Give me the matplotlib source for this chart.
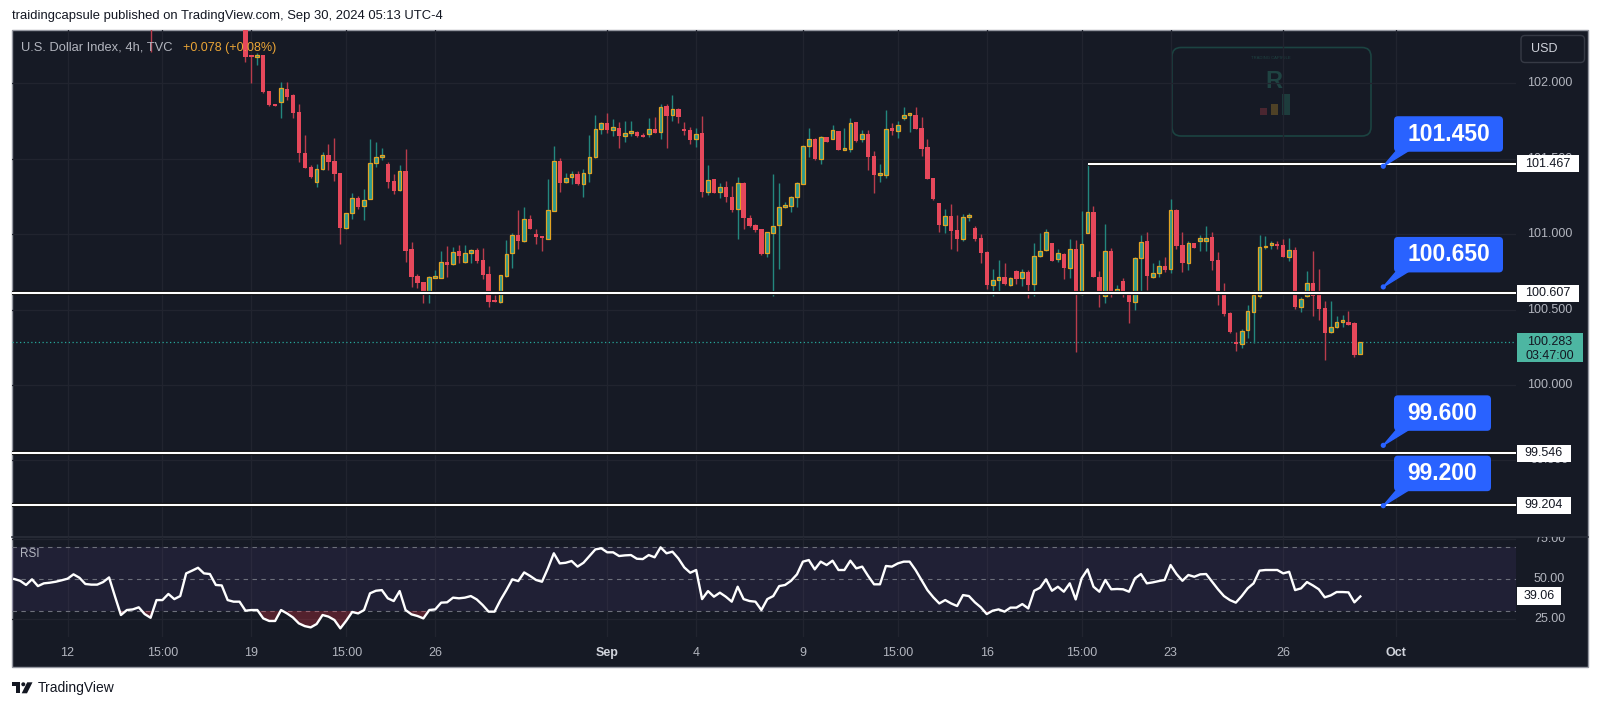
"""U.S. Dollar Index 4h chart with RSI pane, TradingView dark style."""

import matplotlib
import numpy as np

matplotlib.use("Agg")
import matplotlib.pyplot as plt
import matplotlib.patheffects as pe
import matplotlib.transforms as mtransforms
from matplotlib.patches import Circle, FancyBboxPatch, Polygon, Rectangle

plt.rcParams["font.family"] = ["Liberation Sans", "DejaVu Sans"]

# ---------------------------------------------------------------- data
# 4h candles from bar 39 to bar 227 (bar 227 = last, still open)
FIRST_BAR = 39
OPEN = [
    102.450, 102.181, 102.172, 102.187, 101.949, 101.863, 101.878, 101.960, 101.922, 101.812,
    101.536, 101.447, 101.346, 101.430, 101.523, 101.485, 101.403, 101.043, 101.138, 101.237,
    101.188, 101.231, 101.470, 101.509, 101.465, 101.354, 101.293, 101.418, 100.899, 100.725,
    100.683, 100.608, 100.709, 100.707, 100.813, 100.800, 100.886, 100.813, 100.873, 100.895,
    100.829, 100.736, 100.563, 100.552, 100.722, 100.873, 100.994, 100.955, 101.098, 101.001,
    100.980, 100.970, 101.156, 101.485, 101.344, 101.381, 101.399, 101.330, 101.407, 101.513,
    101.697, 101.735, 101.690, 101.701, 101.653, 101.670, 101.679, 101.653, 101.662, 101.699,
    101.679, 101.850, 101.790, 101.827, 101.690, 101.690, 101.631, 101.668, 101.281, 101.363,
    101.281, 101.311, 101.248, 101.165, 101.341, 101.109, 101.059, 101.032, 100.873, 101.006,
    101.059, 101.178, 101.186, 101.248, 101.330, 101.586, 101.629, 101.498, 101.646, 101.631,
    101.684, 101.558, 101.564, 101.741, 101.631, 101.664, 101.518, 101.392, 101.392, 101.706,
    101.686,
    101.772, 101.790, 101.790, 101.706, 101.575, 101.370, 101.205, 101.061, 101.120, 101.027,
    100.968, 101.114, 101.039, 100.972, 100.884, 100.663, 100.696, 100.718, 100.663, 100.758,
    100.707, 100.747, 100.667, 100.855, 100.895, 100.939, 100.833, 100.868, 100.773, 100.903,
    100.601, 101.006, 101.149, 100.718, 100.592, 100.888, 100.608,
    100.689, 100.618, 100.548, 100.840, 100.955, 100.718, 100.740, 100.791, 100.771, 101.160,
    100.928, 100.807, 100.939, 100.957, 100.957, 100.979, 100.829, 100.623, 100.475, 100.283,
    100.270, 100.365, 100.486, 100.592, 100.913, 100.930, 100.935, 100.928, 100.850, 100.895,
    100.519, 100.592, 100.678, 100.601, 100.508, 100.349, 100.382, 100.420, 100.420,
    100.409, 100.205,
]
HIGH = [
    102.500, 102.187, 102.199, 102.190, 101.950, 101.863, 102.010, 102.006, 101.930, 101.863,
    101.657, 101.458, 101.463, 101.546, 101.597, 101.635, 101.403, 101.138, 101.271, 101.255,
    101.299, 101.631, 101.609, 101.569, 101.480, 101.399, 101.458, 101.562, 100.950, 100.736,
    100.683, 100.720, 100.762, 100.890, 100.923, 100.917, 100.928, 100.928, 100.900, 100.906,
    100.910, 100.789, 100.596, 100.729, 100.961, 101.006, 101.160, 101.182, 101.127, 101.032,
    100.988, 101.363, 101.586, 101.503, 101.403, 101.420, 101.418, 101.430, 101.657, 101.790,
    101.745, 101.805, 101.761, 101.741, 101.752, 101.750, 101.684, 101.668, 101.772, 101.774,
    101.863, 101.863, 101.922, 101.834, 101.741, 101.712, 101.701, 101.783, 101.458, 101.363,
    101.341, 101.354, 101.319, 101.377, 101.348, 101.127, 101.065, 101.032, 101.016, 101.397,
    101.337, 101.211, 101.253, 101.348, 101.590, 101.701, 101.635, 101.653, 101.646, 101.724,
    101.684, 101.706, 101.772, 101.745, 101.690, 101.690, 101.551, 101.465, 101.823, 101.735,
    101.752,
    101.845, 101.796, 101.841, 101.778, 101.629, 101.370, 101.205, 101.165, 101.198, 101.127,
    101.131, 101.142, 101.054, 101.001, 100.890, 100.769, 100.829, 100.811, 100.718, 100.762,
    100.769, 100.762, 100.939, 101.006, 101.032, 100.939, 100.900, 100.877, 100.966, 100.961,
    101.153, 101.467, 101.187, 100.756, 101.067, 100.910, 100.663,
    100.707, 100.618, 100.850, 100.994, 101.016, 100.807, 100.829, 100.846, 101.233, 101.165,
    101.016, 100.957, 100.939, 100.994, 101.054, 101.016, 100.884, 100.674, 100.482, 100.353,
    100.371, 100.530, 100.630, 100.994, 100.988, 100.955, 100.957, 100.968, 100.972, 100.917,
    100.585, 100.756, 100.888, 100.767, 100.557, 100.557, 100.459, 100.464, 100.490,
    100.420, 100.283,
]
LOW = [
    102.139, 102.004, 102.121, 101.934, 101.850, 101.848, 101.772, 101.889, 101.768, 101.480,
    101.436, 101.370, 101.314, 101.425, 101.425, 101.354, 100.933, 101.034, 101.102, 101.167,
    101.094, 101.231, 101.447, 101.491, 101.304, 101.266, 101.286, 100.813, 100.652, 100.641,
    100.545, 100.541, 100.707, 100.707, 100.718, 100.795, 100.807, 100.807, 100.807, 100.807,
    100.701, 100.519, 100.552, 100.545, 100.714, 100.778, 100.901, 100.950, 101.034, 100.935,
    100.890, 100.966, 101.156, 101.279, 101.337, 101.332, 101.326, 101.248, 101.344, 101.503,
    101.664, 101.668, 101.653, 101.573, 101.613, 101.650, 101.646, 101.642, 101.642, 101.668,
    101.631, 101.569, 101.752, 101.739, 101.657, 101.596, 101.580, 101.248, 101.260, 101.271,
    101.242, 101.215, 101.145, 100.970, 101.032, 101.049, 101.012, 100.862, 100.850, 100.590,
    100.767, 101.171, 101.145, 101.182, 101.330, 101.509, 101.491, 101.463, 101.609, 101.629,
    101.558, 101.555, 101.546, 101.611, 101.613, 101.425, 101.275, 101.348, 101.370, 101.657,
    101.635,
    101.757, 101.679, 101.695, 101.520, 101.363, 101.226, 101.016, 101.010, 100.899, 100.888,
    100.956, 101.087, 100.956, 100.807, 100.634, 100.592, 100.608, 100.663, 100.656, 100.667,
    100.656, 100.575, 100.592, 100.847, 100.888, 100.820, 100.813, 100.701, 100.707, 100.221,
    100.596, 101.006, 100.718, 100.519, 100.541, 100.585, 100.603,
    100.585, 100.413, 100.497, 100.612, 100.630, 100.707, 100.718, 100.751, 100.744, 100.899,
    100.751, 100.762, 100.906, 100.888, 100.888, 100.762, 100.530, 100.459, 100.343, 100.225,
    100.243, 100.310, 100.276, 100.575, 100.901, 100.899, 100.899, 100.846, 100.824, 100.504,
    100.482, 100.585, 100.459, 100.431, 100.166, 100.343, 100.376, 100.386, 100.398,
    100.188, 100.205,
]
CLOSE = [
    102.176, 102.174, 102.187, 101.940, 101.856, 101.848, 101.967, 101.911, 101.801, 101.536,
    101.440, 101.381, 101.432, 101.523, 101.480, 101.399, 101.043, 101.138, 101.242, 101.182,
    101.226, 101.470, 101.513, 101.523, 101.344, 101.288, 101.418, 100.890, 100.714, 100.678,
    100.608, 100.718, 100.722, 100.813, 100.795, 100.880, 100.857, 100.873, 100.893, 100.824,
    100.729, 100.552, 100.552, 100.729, 100.868, 100.994, 100.955, 101.098, 101.034, 100.979,
    100.974, 101.160, 101.485, 101.341, 101.370, 101.399, 101.330, 101.407, 101.513, 101.695,
    101.735, 101.690, 101.708, 101.653, 101.672, 101.682, 101.650, 101.646, 101.699, 101.672,
    101.845, 101.783, 101.827, 101.774, 101.684, 101.624, 101.664, 101.277, 101.359, 101.271,
    101.311, 101.248, 101.160, 101.337, 101.105, 101.056, 101.027, 100.868, 101.012, 101.054,
    101.178, 101.191, 101.248, 101.337, 101.586, 101.629, 101.498, 101.646, 101.609, 101.690,
    101.558, 101.562, 101.735, 101.619, 101.664, 101.513, 101.392, 101.395, 101.697, 101.684,
    101.723,
    101.790, 101.794, 101.697, 101.564, 101.363, 101.233, 101.061, 101.120, 101.023, 100.968,
    101.116, 101.118, 100.968, 100.873, 100.663, 100.696, 100.718, 100.667, 100.711, 100.701,
    100.747, 100.663, 100.857, 100.890, 101.012, 100.824, 100.873, 100.773, 100.901, 100.601,
    100.933, 101.149, 100.718, 100.596, 100.888, 100.618, 100.636,
    100.615, 100.548, 100.840, 100.950, 100.725, 100.740, 100.791, 100.762, 101.160, 100.923,
    100.807, 100.939, 100.906, 100.972, 100.972, 100.824, 100.618, 100.469, 100.349, 100.270,
    100.360, 100.490, 100.596, 100.917, 100.921, 100.933, 100.923, 100.850, 100.895, 100.519,
    100.570, 100.678, 100.592, 100.502, 100.347, 100.382, 100.420, 100.422, 100.398,
    100.199, 100.283,
]
# bar 23: only its lower wick reaches into view (bars 24-38 are above the chart)
EDGE_BAR = 23
EDGE_OHLC = (102.62, 102.66, 102.21, 102.47)

# RSI(14), bars 0..227
RSI = [
    49.9, 48.8, 46.2, 49.7, 45.5, 47.2, 47.6, 48.2, 49.1, 50.1,
    52.8, 50.7, 46.8, 46.4, 46.4, 48.0, 50.9, 39.0, 27.5, 30.6,
    31.0, 32.3, 28.1, 25.8, 36.8, 36.8, 40.6, 37.4, 39.3, 53.4,
    55.1, 56.9, 53.4, 53.0, 46.2, 45.9, 36.8, 35.8, 35.8, 30.2,
    30.6, 30.6, 25.4, 23.8, 23.8, 30.6, 28.5, 26.0, 22.3, 20.6,
    19.8, 21.9, 27.5, 26.5, 24.4, 19.2, 24.0, 29.4, 28.5, 30.6,
    41.0, 42.6, 43.0, 37.9, 36.2, 42.4, 30.6, 27.9, 26.9, 25.4,
    30.6, 31.0, 35.2, 35.4, 38.3, 37.9, 38.3, 39.3, 37.2, 33.7,
    29.6, 29.6, 36.8, 43.0, 49.7, 48.6, 54.0, 51.8, 49.3, 48.2,
    56.5, 65.9, 59.6, 60.0, 61.1, 57.6, 60.0, 64.2, 68.3, 69.0,
    66.5, 66.5, 64.2, 64.6, 64.8, 62.5, 62.3, 64.8, 63.4, 69.6,
    65.9, 66.9, 62.7, 57.1, 53.8, 55.5, 37.4, 42.4, 38.9, 41.4,
    38.9, 35.8, 45.1, 37.4, 36.2, 35.8, 30.6, 37.4, 39.3, 45.5,
    46.2, 48.8, 52.8, 60.7, 61.7, 55.9, 60.7, 58.6, 61.3, 55.5,
    55.5, 61.3, 56.5, 57.6, 51.8, 46.6, 46.6, 58.0, 57.6, 59.6,
    60.7, 60.7, 55.5, 49.3, 43.0, 38.5, 34.7, 36.8, 34.7, 33.1,
    39.9, 39.3, 35.4, 32.3, 28.1, 30.2, 31.0, 29.6, 32.1, 32.1,
    34.3, 31.6, 42.6, 44.5, 49.7, 42.6, 45.1, 42.0, 47.2, 37.2,
    50.3, 55.9, 45.1, 42.0, 49.3, 43.5, 43.7, 43.5, 42.0, 50.3,
    53.0, 47.2, 47.8, 48.6, 49.3, 58.6, 53.0, 48.8, 52.4, 51.3,
    52.8, 53.0, 48.2, 43.5, 39.3, 36.8, 35.2, 39.3, 44.1, 47.2,
    55.1, 55.5, 55.5, 55.5, 53.4, 54.4, 43.0, 44.1, 48.0, 45.9,
    43.5, 38.5, 39.7, 41.8, 41.8, 41.6, 35.4, 39.06,
]

LEVELS = [101.467, 100.607, 99.546, 99.204]
LEVEL_FROM = [181, None, None, None]
TARGETS = [101.450, 100.650, 99.600, 99.200]
LAST_PRICE = 100.283
COUNTDOWN = "03:47:00"
PRICE_TICKS = [99.5, 100.0, 100.5, 101.0, 101.5, 102.0]
RSI_TICKS = [25, 50, 75]
TIME_TICKS = [9, 25, 40, 56, 71, 100, 115, 133, 149, 164, 180, 195, 214, 233]
TIME_LABELS = ["12", "15:00", "19", "15:00", "26", "Sep", "4", "9", "15:00", "16",
               "15:00", "23", "26", "Oct"]

# ---------------------------------------------------------------- style
BG, GRID, TXT = "#161a25", "#21242f", "#b2b5be"
UP_BODY, UP_EDGE, UP_WICK = "#289c93", "#e3a323", "#23877e"
DN_BODY, DN_WICK = "#e6485b", "#b93c4c"
BLUE = "#2962ff"

W, H = 1600, 707
CH_L, CH_R, CH_T, CH_B = 11.7, 1588, 30, 667     # dark chart frame (px)
PLOT_R, MAIN_B, RSI_T, RSI_B = 1516, 536, 537, 637
XLIM = (-0.42, 253.25)
YLIM = (98.999, 102.353)
RSI_LIM = (13.83, 76.03)


def frac(x0, y0, x1, y1):
    return [x0 / W, 1 - y1 / H, (x1 - x0) / W, (y1 - y0) / H]


def bare(a):
    a.set_xticks([])
    a.set_yticks([])
    for s in a.spines.values():
        s.set_visible(False)
    a.set_facecolor("none")


fig = plt.figure(figsize=(W / 100, H / 100), dpi=100)
fig.patch.set_facecolor("white")

bg = fig.add_axes([0, 0, 1, 1], zorder=0)
bg.set_xlim(0, W)
bg.set_ylim(H, 0)
bg.axis("off")
bg.add_patch(Rectangle((CH_L, CH_T), CH_R - CH_L, CH_B - CH_T, fc=BG, ec="#9598a1", lw=1))
bg.plot([CH_L, CH_R], [536.5, 536.5], color="#2a2e39", lw=1.2)

# watermark logo box
bg.add_patch(FancyBboxPatch((1172, 47.5), 199, 88.5, boxstyle="round,pad=0,rounding_size=9",
                            fc="none", ec="#1b4341", lw=1.2))
bg.add_patch(Rectangle((1260, 108), 6.5, 7, fc="#4a2630", ec="none"))
bg.add_patch(Rectangle((1271, 104), 7, 11, fc="#4e4126", ec="none"))
bg.add_patch(Rectangle((1282, 94), 8, 21, fc="#1d3c3c", ec="none"))
bg.text(1274, 81, "R", color="#1f4342", fontsize=17, fontweight="bold", ha="center", va="center")
bg.text(1271, 58, "TRADING CAPSULE", color="#1f4342", fontsize=3, ha="center", va="center")

# ---------------------------------------------------------------- main pane
ax = fig.add_axes(frac(CH_L, CH_T, PLOT_R, MAIN_B), zorder=1)
bare(ax)
ax.set_xlim(*XLIM)
ax.set_ylim(*YLIM)
for b in TIME_TICKS:
    ax.axvline(b, color=GRID, lw=0.9, zorder=0)
for p in PRICE_TICKS:
    ax.axhline(p, color=GRID, lw=0.9, zorder=0)

o = np.r_[EDGE_OHLC[0], OPEN]
h = np.r_[EDGE_OHLC[1], HIGH]
l = np.r_[EDGE_OHLC[2], LOW]
c = np.r_[EDGE_OHLC[3], CLOSE]
bars = np.r_[EDGE_BAR, np.arange(FIRST_BAR, FIRST_BAR + len(OPEN))]
up = c > o
lo = np.minimum(o, c)
hgt = np.maximum(np.abs(c - o), 0.011)

ax.vlines(bars[up], l[up], h[up], color=UP_WICK, lw=1.0, zorder=2)
ax.vlines(bars[~up], l[~up], h[~up], color=DN_WICK, lw=1.0, zorder=2)
ax.bar(bars[up], hgt[up], bottom=lo[up], width=0.62, color=UP_BODY, edgecolor=UP_EDGE,
       linewidth=0.9, zorder=3)
ax.bar(bars[~up], hgt[~up], bottom=lo[~up], width=0.72, color=DN_BODY, linewidth=0, zorder=3)

ax.axhline(LAST_PRICE, color="#26a69a", lw=0.9, ls=(0, (1, 2)), zorder=1)

shadow = [pe.Stroke(linewidth=3.0, foreground="#000000"), pe.Normal()]
for lvl, start in zip(LEVELS, LEVEL_FROM):
    x0 = XLIM[0] if start is None else start
    ax.plot([x0, XLIM[1]], [lvl, lvl], color="white", lw=1.6, zorder=4,
            solid_capstyle="butt", path_effects=shadow)

# ---------------------------------------------------------------- RSI pane
axr = fig.add_axes(frac(CH_L, RSI_T, PLOT_R, RSI_B), zorder=1)
bare(axr)
axr.set_xlim(*XLIM)
axr.set_ylim(*RSI_LIM)
for b in TIME_TICKS:
    axr.axvline(b, color=GRID, lw=0.9, zorder=0)
for v in (25, 75):
    axr.axhline(v, color=GRID, lw=0.9, zorder=0)
axr.axhspan(30, 70, color="#7e57c2", alpha=0.1, lw=0, zorder=1)
for v in (70, 50, 30):
    axr.axhline(v, color="#6e717c", lw=0.8, ls=(0, (4, 4)), zorder=2)
rsi = np.array(RSI)
rb = np.arange(len(rsi))
axr.fill_between(rb, rsi, 30, where=rsi < 30, interpolate=True, color="#f23645",
                 alpha=0.28, lw=0, zorder=2)
axr.plot(rb, rsi, color="white", lw=1.7, zorder=3, solid_joinstyle="round")

xt = mtransforms.blended_transform_factory(axr.transData, axr.transAxes)
for b, lab in zip(TIME_TICKS, TIME_LABELS):
    bold = lab in ("Sep", "Oct")
    axr.text(b, -0.16, lab, transform=xt, ha="center", va="center", fontsize=9,
             color="#d1d4dc" if bold else TXT, fontweight="bold" if bold else "normal",
             clip_on=False)

# ---------------------------------------------------------------- price scales
axp = fig.add_axes(frac(PLOT_R, CH_T, CH_R, MAIN_B), zorder=2)
bare(axp)
axp.set_xlim(0, CH_R - PLOT_R)
axp.set_ylim(*YLIM)
ppx = (YLIM[1] - YLIM[0]) / (MAIN_B - CH_T)
for p in PRICE_TICKS:
    axp.text(33.5, p, f"{p:.3f}", ha="center", va="center", fontsize=9, color=TXT)
for lvl in LEVELS:
    lab = f"{lvl:.3f}"
    w = 8.2 * len(lab) + 5
    axp.add_patch(Rectangle((0.7, lvl - 8.5 * ppx), w, 17 * ppx, fc="white", ec="none", zorder=3))
    axp.text(0.7 + w / 2, lvl, lab, ha="center", va="center", fontsize=9, color="#131722", zorder=4)
axp.add_patch(Rectangle((1, LAST_PRICE - 19.4 * ppx), 66, 28.4 * ppx, fc="#4db6a2", ec="none", zorder=3))
axp.text(34, LAST_PRICE, f"{LAST_PRICE:.3f}", ha="center", va="center", fontsize=9,
         color="#131722", zorder=4)
axp.text(34, LAST_PRICE - 14.2 * ppx, COUNTDOWN, ha="center", va="center", fontsize=9,
         color="#131722", zorder=4)

axpr = fig.add_axes(frac(PLOT_R, RSI_T, CH_R, RSI_B), zorder=2)
bare(axpr)
axpr.set_xlim(0, CH_R - PLOT_R)
axpr.set_ylim(*RSI_LIM)
rpx = (RSI_LIM[1] - RSI_LIM[0]) / (RSI_B - RSI_T)
for v in RSI_TICKS:
    axpr.text(33.5, v, f"{v:.2f}", ha="center", va="center", fontsize=9, color=TXT, clip_on=True)
axpr.add_patch(Rectangle((1, RSI[-1] - 9 * rpx), 44, 18 * rpx, fc="white", ec="none", zorder=3))
axpr.text(23, RSI[-1], f"{RSI[-1]:.2f}", ha="center", va="center", fontsize=9,
          color="#131722", zorder=4)

# ---------------------------------------------------------------- overlay (pixels)
fg = fig.add_axes([0, 0, 1, 1], zorder=5)
fg.set_xlim(0, W)
fg.set_ylim(H, 0)
fg.axis("off")


def price_px(p):
    return H - ax.transData.transform((0, p))[1]


DOT_X = 1383.3
for t in TARGETS:
    lab = f"{t:.3f}"
    dy = price_px(t)
    bw = 109 if len(lab) == 7 else 97
    left, bottom = DOT_X + 10.7, dy - 14.5
    fg.add_patch(Polygon([(DOT_X, dy), (left + 2.5, bottom - 1), (left + 14.5, bottom - 1)],
                         closed=True, fc=BLUE, ec=BLUE, lw=1.0))
    fg.add_patch(FancyBboxPatch((left, bottom - 35.5), bw, 35.5,
                                boxstyle="round,pad=0,rounding_size=4", fc=BLUE, ec="none"))
    fg.add_patch(Circle((DOT_X, dy), 2.6, fc=BLUE, ec="none"))
    fg.text(left + bw / 2, bottom - 17.5, lab, ha="center", va="center", fontsize=16.5,
            fontweight="bold", color="white")

fg.add_patch(FancyBboxPatch((1521, 35.5), 63.5, 27, boxstyle="round,pad=0,rounding_size=4",
                            fc=BG, ec="#363a45", lw=1))
fg.text(1531, 48.5, "USD", ha="left", va="center", fontsize=9, color="#d1d4dc")

fg.text(20.7, 47.5, "U.S. Dollar Index, 4h, TVC", ha="left", va="center", fontsize=9.3, color=TXT)
fg.text(183, 47.5, "+0.078 (+0.08%)", ha="left", va="center", fontsize=9, color="#eba536")
fg.text(20, 554, "RSI", ha="left", va="center", fontsize=8.5, color=TXT)

fg.text(12, 15.5, "traidingcapsule published on TradingView.com, Sep 30, 2024 05:13 UTC-4",
        ha="left", va="center", fontsize=9.4, color="#131722")

# TradingView footer logo
fg.add_patch(Rectangle((11.7, 682.3), 8.5, 3.6, fc="#131722", ec="none"))
fg.add_patch(Rectangle((15.6, 682.3), 4.6, 11, fc="#131722", ec="none"))
fg.add_patch(Circle((23.3, 684.3), 2.0, fc="#131722", ec="none"))
fg.add_patch(Polygon([(27.2, 682.3), (32.5, 682.3), (27.0, 693.3), (21.7, 693.3)],
                     closed=True, fc="#131722", ec="none"))
fg.text(37.3, 688, "TradingView", ha="left", va="center", fontsize=10, color="#131722")

fig.savefig("out.png", dpi=100, facecolor="white")
plt.close(fig)
